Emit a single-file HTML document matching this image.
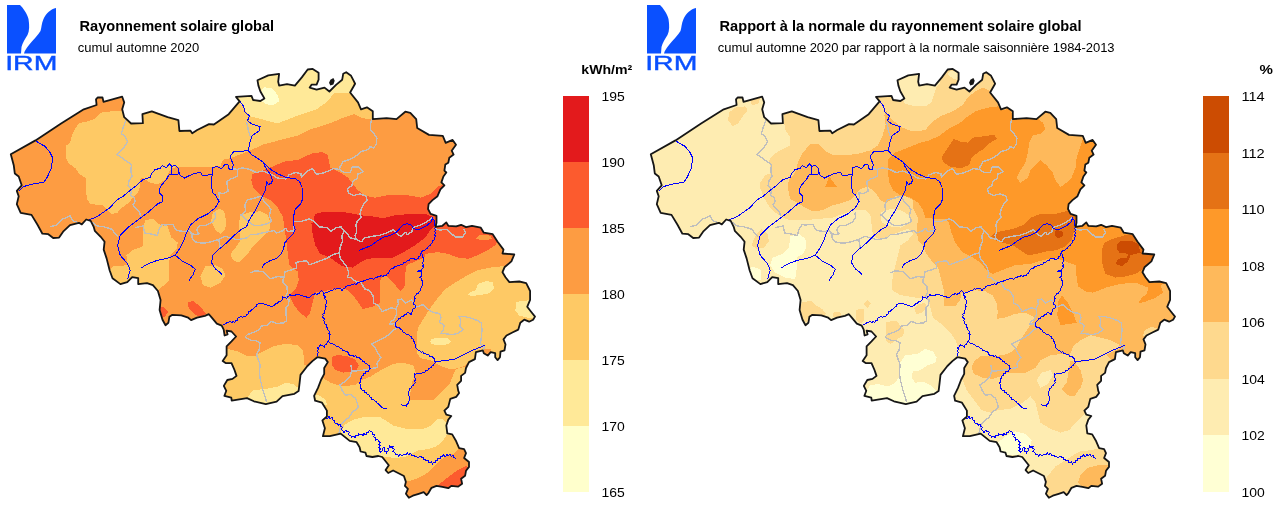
<!DOCTYPE html>
<html lang="fr">
<head>
<meta charset="utf-8">
<title>Rayonnement solaire global</title>
<style>
html,body{margin:0;padding:0;background:#fff;}
body{width:1280px;height:507px;overflow:hidden;}
svg{display:block;}
text{font-family:"Liberation Sans",sans-serif;fill:#000;}
.title{font-weight:bold;font-size:14.6px;}
.sub{font-size:13px;}
.lab{font-size:13px;}
.unit{font-weight:bold;font-size:13px;}
</style>
</head>
<body>
<svg width="1280" height="507" viewBox="0 0 1280 507">
<rect width="1280" height="507" fill="#fff"/>
<defs>
<path id="bel" d="M10.8,154.2 L35.5,140.4 L61.1,123.5 L83.8,109.3 L96.6,105 L96,99.4 L97.6,97.5 L102.5,97.5 L103.5,101.8 L122.2,96.7 L124.2,102.4 L122.2,109.3 L124.2,117.2 L131.1,123.5 L142.9,123.1 L142.4,114.2 L151.8,111.3 L167.6,117.2 L178.4,120.1 L179.4,131 L190.3,130.6 L192.2,133.3 L197.2,130 L209,124.1 L213.9,124.5 L228.7,114.2 L239.6,101.4 L236,96.9 L251.5,95.9 L253.1,100 L260.4,101 L264.4,98.4 L260.4,91.5 L258.4,85.6 L257.5,80.3 L268.3,75.4 L279.1,73.8 L278.2,81.7 L279.1,85.6 L287,84.1 L294.9,85.6 L301.8,77.4 L307.7,69.5 L312.7,68.9 L318.6,72.8 L318.6,79.7 L316.6,84.6 L311.7,84.6 L309.7,87.6 L316.6,89.6 L324.5,87.6 L329.4,91.5 L336.3,84.6 L342.2,79.7 L343.2,73.8 L346.2,72.2 L351.1,75.8 L355.1,83.7 L350.1,92.5 L358,102.4 L361,109.3 L366.9,107.3 L372.8,111.3 L372.8,119.1 L386.6,118.2 L396.5,119.1 L405.3,111.7 L410.3,112.8 L416.2,119.1 L417.2,128 L429,134.9 L442.8,135.9 L445.7,142.8 L452.6,139.9 L456,144.8 L451.7,150.7 L453.6,154.6 L449.3,157.7 L448.3,162.7 L445.3,164.6 L444.4,170.6 L446.3,172.5 L443.4,176.5 L441.4,182.4 L444.4,185.3 L440.4,189.3 L437.5,196.2 L432.5,200.1 L428.6,204.1 L428,209 L430.6,213.9 L436.5,215.9 L436.5,222.8 L435.5,226.8 L442.4,225.8 L446.3,222.4 L448.3,225.8 L456.2,226.4 L461.1,224.8 L466,227.1 L472,225.8 L480.8,227.7 L483.8,232.7 L492.7,234.2 L497.6,241.7 L503.5,249.6 L502.5,253.5 L514.3,254.5 L511.4,261.4 L504.5,267.3 L502.5,272.2 L505.5,277.2 L509.4,282.1 L519.3,281.5 L526.2,283.1 L530.1,291 L530.1,299.9 L527.2,306.8 L531.1,311.7 L535,316.6 L533.1,319.7 L529.1,321.7 L524.2,319.7 L520.3,322.7 L518.3,329.6 L512.4,332.5 L506.5,335.5 L503.5,339.4 L505.5,344.4 L504.5,350.3 L500.5,351.7 L500,357.2 L497.6,360.1 L495.2,357.2 L495.2,353.2 L490.7,352.2 L487.7,355.6 L483.8,353.2 L482.8,350.3 L475.9,352.2 L474.9,359.1 L469,362.1 L466,368 L465.1,372.9 L461.1,375.9 L461.1,380.8 L457.2,384.8 L458.2,390.7 L459.1,393 L456.2,396.9 L450.3,398.9 L448.3,406.8 L444.4,410.7 L446.3,414.6 L451.3,416 L448.3,419.6 L446.3,425.5 L447.3,433.4 L452.2,434.4 L456.2,441.3 L459.1,448.2 L464.1,449.1 L466,453.1 L464.1,458 L469,462 L469,466.9 L466,470.8 L465.1,475.8 L461.1,478.7 L462.1,483.7 L458.2,486.6 L451.3,485.9 L448.3,488.2 L442.4,486.9 L436.5,485.9 L431.5,487.8 L428.6,492.8 L426.6,495.1 L423.7,492.2 L418.7,493.8 L412.8,495.7 L408.9,497.7 L405.9,493.8 L407.9,488.8 L404.9,485.9 L405.9,481.9 L403.9,476 L400,474 L393.1,470.5 L388.2,473 L385.6,470.1 L388.8,465.2 L382.2,457 L378.3,456 L372.4,457 L366.5,456 L365.5,452.7 L360.6,451.5 L359.6,447.2 L356.6,442.2 L349.7,440.9 L340.7,433.6 L329.8,436.2 L322.9,436.2 L324.9,428.3 L322.4,420.4 L326.9,416.5 L326.9,410.6 L322,402.7 L315.1,400.7 L314.1,395.8 L318,387.9 L321,380 L324.2,373.9 L324.2,368 L327.8,362.1 L325.2,358.6 L317.3,357.2 L312.4,361.1 L307.4,366 L300.5,374.9 L299.6,382.8 L298.6,391.1 L294.4,393.8 L282.5,396.2 L276.6,401.7 L265.8,404.1 L253.9,401.3 L247,398.1 L231.7,400.7 L231.3,397.7 L224.4,395.8 L226.3,390.8 L223.8,385.9 L227.3,380 L232.5,378.9 L236.5,375.9 L234.5,370 L231.5,363.1 L225.6,363.1 L222.7,361.1 L226.6,355.2 L226.6,346.3 L231.5,341.4 L236.1,336.5 L231.5,331.5 L226.6,330.6 L227.6,334.5 L224.6,335.5 L223.7,329.6 L221.7,325.6 L216.8,323.7 L211.8,317.7 L208.9,314.2 L204.9,315.8 L197,317.7 L191.1,320.1 L188.2,317.7 L181.3,315.4 L172.4,314.8 L169.4,316.8 L168.4,322.7 L165.5,325.2 L162.5,319.7 L159.6,309.9 L160.6,300 L157.9,291 L152.9,285.1 L147,283.1 L138.2,284.1 L138.2,278.2 L132.2,277.2 L127.3,282.1 L120.4,284.1 L112.5,278.2 L109.6,270.3 L106.6,258.4 L103.7,249.6 L104.6,241.7 L100.7,236.8 L94.8,230.8 L93.7,226.8 L90.7,220.8 L86.2,219.5 L81.8,224.4 L78.9,222.8 L70,225.2 L63.1,231.7 L59.1,237.6 L53.2,238 L48.3,234.2 L42.4,233.7 L37.5,224.8 L31.5,214.9 L20.7,212.9 L16.8,204.1 L18.7,196.2 L16.8,190.9 L21.7,185.3 L18.7,176.5 L14.8,173.5 L13.8,165.6Z"/>
<clipPath id="clipbel"><use href="#bel"/></clipPath>
<g id="lines">
<g fill="none" stroke="#BEBEBE" stroke-width="1.4" stroke-linejoin="round">
<path d="M126,120.5 L123.7,126 L121.3,133.9 L125.2,136.3 L127.6,141.8 L123.7,148.1 L116.6,154.4 L123.7,159.1 L131.5,164.7 L130.8,171 L132.1,176.3 L128.9,181 L128.1,185.8 L132.1,188.9 L130.5,195.2 L134.4,197.6 L135.2,201.5 L132.8,204.7 L135.2,207.9 L139.1,211.8 L140.7,215.7"/>
<path d="M246.7,122.1 L248.3,130 L250.6,137.1"/>
<path d="M230.9,168.6 L237.2,169.4 L242,167.8 L249.8,169.4 L256.2,172.6 L262.5,171 L268.8,173.3 L273.5,175.7 L277.9,178.1 L285.8,178.9 L288.9,175 L295.2,172.6 L300.8,173.4 L301.5,177.3 L306.3,171.8 L312.6,168.6 L316.5,174.2 L322.1,173.4 L328.4,171 L333.1,168.6 L339.4,169.4"/>
<path d="M237.7,170 L237.7,176.3 L231.4,178.7 L226.7,181.8 L227.5,187.4 L228.3,191.3 L223.5,193.7 L218.8,192.9 L219.6,197.6 L217.2,200"/>
<path d="M91.8,222 L97.4,226 L103.7,226.8 L111.5,229.1 L115.5,233.9 L117.9,237"/>
<path d="M135.2,227.6 L143.1,226 L144.7,233.1 L151,233.9 L157.3,235.5 L158.9,229.9 L162,224.4 L166,225.2 L168.3,224.4 L173.1,224.4 L174.6,228.4 L177.8,230.7 L184.1,231.5 L188.8,230.7 L192,233.1 L192,237.8 L195.1,241.8 L203,243.3 L210.9,241.8 L218.8,239.4 L225.1,236.2 L229.8,237.8 L236.2,239.4 L239.3,239.4 L247.2,237.8 L250.3,234.7 L255.1,234.7 L261.4,233.1 L269.3,231.5 L274,230.7 L276.3,233.1 L282.6,230.8 L285.8,228.4 L287.4,231.5 L293.7,230.8 L293.7,221.3 L301.5,221.3 L309.4,218.9 L314.2,221.3 L318.9,226.8 L326.8,227.6 L330.7,231.5 L336.2,227.6 L341,226.8 L344.1,230.8 L347.3,233.9 L350.4,237.9 L356,239.4 L361.5,241.8 L364.6,237.9 L372.5,236.3 L378.8,235.5 L386.7,233.1 L393,230 L397,233.9 L400.9,236.3 L405.6,232.3 L407.2,234.7 L412,231.5 L412.7,227.6 L419.8,225.2 L426.2,222.1 L430.9,218.9 L432.5,216.6"/>
<path d="M214.9,212.6 L215.6,217.3 L212.5,222.1 L206.2,225.2 L199.9,225.2 L196.7,229.9 L199.1,233.9 L195.1,234.7 L190.4,233.1"/>
<path d="M261.4,196 L253.5,198.4 L247.2,200 L244.8,204.7 L245.6,211 L240.9,215 L244,217.3 L248.8,222.1 L253.5,225.2 L261.4,225.2 L267.7,223.6 L271.6,221.3 L269.3,215.7 L270.9,209.4 L267.7,204.7 L263.8,201.5 L261.4,196"/>
<path d="M218.8,239.4 L219.6,244.1 L220.4,248.9"/>
<path d="M371.5,119.5 L370.5,125 L370.2,130 L374.1,133.9 L376.9,137.9 L376.5,144.2 L373.3,148.1 L370.2,146.6 L367.8,149.7 L361.5,151.3 L356,156 L350.4,159.2 L343.3,161.5 L340.2,166.3 L339.4,169.4 L344.1,172.6 L350.4,172.6 L352,167.1 L358.3,167.1 L363.1,171.8 L357.5,174.2 L357.5,178.1 L352.8,181.3 L352,185.2 L347.3,189.1 L348.9,193.1 L353.6,195.5 L359.9,193.9 L366.2,196.2 L367,200.2 L363.8,204.1 L361.5,207.9 L359.9,214.2 L361.5,217.4 L357.5,220.5 L356,225.2 L356.8,231.5 L355.2,235.5 L356,239.4"/>
<path d="M344.1,230.8 L341.8,236.3 L342.6,241 L340.2,247.3 L339.4,252.8 L340.2,258.4 L344.1,263.1 L347.3,267.8 L348.9,274.1 L347.3,277.3 L351.4,277.9 L356.2,281.8 L360.9,282.6 L364.8,288.9 L369.6,290.5 L373.5,296.8 L373.5,303.1 L378.2,305.5 L382.2,311.8 L390.5,307.9 L396,308.6 L398.4,303.9 L397.6,300 L401.5,299.2 L405.5,303.1 L411.8,300 L412.6,302.3 L416.5,307.1 L422.8,304.7 L428.4,309.4 L433.1,312.6 L439.4,313.4 L441,317.3 L439.4,322.1 L444.1,325.2 L443.3,329.9 L441,333.1 L447.3,333.9 L452.8,334.7 L458.3,333.1 L463.1,329.9 L459.9,326 L460.7,320.5 L459.1,316.5 L464.6,316.5 L470.9,318.1 L477.3,320.5 L481.2,322.8 L482,329.9 L481.2,337.8 L480.4,344.1 L484.4,345.7 L483.6,350"/>
<path d="M339.4,252.8 L333.1,254.4 L326.8,258.4 L320.5,260.7 L314.2,263.1 L309.4,264.7 L306.3,260.7 L301.5,261.5 L296,262.3 L296.8,267.8 L290.5,270.2 L285,271.8 L284.2,277.3 L277.9,276.5 L270,278.9 L263.1,271.6 L255.2,270.8 L250.5,273.2"/>
<path d="M434,228.4 L440.3,230 L446.7,229.2 L451.4,233.9 L456.1,237.1 L462.4,237.1 L465.6,232.3 L464,229.2"/>
<path d="M283.6,276.3 L282.8,282.6 L286.8,285.8 L287.5,292.1 L285.2,296.8 L289.1,300 L288.3,304.7 L286,307.9 L286,314.2 L286.8,320.5 L283.6,322.8 L277.3,323.6 L271,321.3 L267.8,325.2 L261.5,326 L259.9,329.1 L253.6,332.3 L247.3,334.7 L245,337 L250.5,340.2 L255.2,340.2 L259.9,342.6 L259.1,350 L256.3,354.2 L258.6,360.5 L260.2,365.2 L259.4,371.5 L260.2,379.4 L261.8,385.7 L263.4,392.1 L265.7,398.4 L266.5,402.3"/>
<path d="M396,308.6 L396.8,313.4 L394.4,318.9 L390.5,322.1 L389.7,324.4 L393.7,323.6 L396.8,327.6 L392.1,331.5 L385.8,337 L381,339.4 L376.3,341.8 L371.6,344.1 L375.4,347.9 L377.7,352.6 L380.9,357.4 L376.9,363.7 L377.7,367.6 L371.4,368.4 L365.1,370 L357.2,370.8 L351.7,370.8 L350.1,376.3 L344.6,381.8 L339.9,385 L342.2,390.5 L345.4,395.2 L350.9,394.4 L355.6,398.4 L357.2,403.1 L358.4,407.1 L352.1,412.6 L348.9,417.4 L344.2,421.3 L341,425.2 L339.4,431.5 L338.6,433.1"/>
<path d="M351.7,370.8 L350.9,365.2"/>
<path d="M50.3,226.8 L57.2,224.8 L63.1,218.9 L70,215.9 L73,220.8 L78.9,222.8"/>
</g>
<g fill="none" stroke="#0000FF" stroke-width="1" stroke-linejoin="round">
<path d="M36.3,141.4 L45.1,146.4 L50.1,152.7 L52.6,157.7 L51.4,167.7 L47.6,176.5 L43.9,182.3 L32.6,184 L23.8,186.5 L18.8,191.5"/>
<path d="M239.6,100.8 L243.5,106.3 L245.1,112.6 L249.8,115.8 L247.5,120.5 L251.4,123.7 L260.1,126.8 L259.3,130.8 L252.2,135.5 L249.8,142.6 L248.3,150.5 L242,151.3 L234.1,151.3 L230.1,156 L231.7,160.7 L233.3,164.7 L232.5,169.4 L229.3,169.4 L227.8,164.7 L224.6,164.7 L221.5,168.6 L216.7,166.2 L212.8,167.8 L212,174.1 L208.8,174.9 L202.5,175.7 L200.9,172.6 L194.6,173.3 L189.1,175.7 L184.4,178.1 L179.7,174.9 L178.1,167.8 L175.7,165.5 L171.8,166.2 L169.4,163.9 L166.2,167.8 L162.3,165.5 L159.9,168.6 L155.2,169.4 L151.3,174.1 L150.5,177.3 L145.7,178.9 L142.6,180 L136.6,185.3 L130.3,190.3 L122.8,196.5 L116.5,200.3 L110.1,207.6 L97.6,216.3 L88.8,220.1"/>
<path d="M171.8,166.2 L171.8,174.1 L178.1,174.1 L178.1,167.8"/>
<path d="M172.5,174.1 L169.4,174.1 L166.7,179 L160.4,186.5 L159.1,192.8 L162.9,196.5 L162.9,201.6 L157.7,203.8 L147.7,212.6 L137.7,220.1 L127.7,227.6 L120.2,235.1 L117.6,245.2 L120.2,255.2 L127.7,264 L130.2,270.2 L127.7,279"/>
<path d="M212.8,167.8 L211.8,177.7 L211,185.3 L213,192.8 L215.4,195 L219.1,201.3 L215.4,207.6 L207.9,213.8 L197.8,218.8 L190.3,225.1 L186.6,232.6 L184.1,240.2 L180.3,247.7 L175.3,255.2 L167.8,258.2 L157.7,260.2 L147.7,264 L141.5,267.7"/>
<path d="M175.3,255.2 L182.8,261.5 L190.3,265.2 L195.3,269 L192.8,275.2 L189.1,280.3"/>
<path d="M248.3,150.5 L251.4,154.4 L257.7,158.4 L263.2,162.3 L264.8,166.2 L267.2,170.2 L270.3,174.1 L272.5,180 L271.5,183 L268.5,184.5 L266.5,182 L265.5,190 L260.5,200.1 L255.5,210.1 L249.2,220.1 L246.7,226.4 L240.5,230.1 L232.9,236.4 L225.4,243.9 L217.9,250.2 L212.9,255.2 L211.6,262.7 L215.4,269 L220.4,272.7 L222.4,275.2"/>
<path d="M263.2,162.3 L267.2,166.2 L271.9,170.2 L278.2,174.1 L286.1,177.3 L295.6,178.9 L299.5,181.5 L302,187 L302.3,200 L300,204.7 L295.2,209.5 L293.7,215.8 L293.3,223.7 L295.2,229.2 L293.7,233.1 L288.9,237.9 L285,242.6 L283.4,248.9 L281,254.4 L276.3,258.4 L270,260.7 L264.3,264 L261.8,268.2"/>
<path d="M432.5,217.4 L432.74,219.1 L434.23,220.34 L433.93,222.23 L434.95,223.65 L434.7,225.31 L435.56,226.8 L434.78,228.5 L435.7,229.99 L434.94,231.53 L435.71,233.2 L434.69,234.7 L435.41,236.37 L434.7,237.89 L434.31,239.77 L432.59,240.89 L432.18,242.81 L430.83,244.16 L429.98,245.63 L428.26,246.26 L427.8,248.15 L426.11,248.81 L424.77,250.23 L422.8,250.73 L421.5,252.26 L420.33,253.94 L419.94,256.06 L418.48,256.75 L418.09,258.43 L416.62,259.02 L415.06,259.38 L413.63,258.19 L411.98,258.55 L410.09,258.87 L409.05,260.76 L407.03,261.05 L405.65,262.38 L403.75,262.56 L402.65,264.3 L400.72,264.4 L399.38,265.66 L397.59,265.54 L396.33,267.01 L394.55,266.83 L393.24,268.37 L391.24,268.8 L390,270.35 L389.21,271.56 L388.65,273.25 L386.93,274.01 L386.22,275.6 L384.47,275.14 L383,276.43 L381.3,275.41 L379.83,276.59 L378.19,276.2 L376.82,277.63 L374.81,278.05 L373.58,279.61 L372.46,278.45 L371,278.05 L369.54,278.09 L368.56,279.58 L366.84,279.38 L365.64,280.4 L363.93,280.62 L362.58,281.82 L360.75,281.68 L359.34,282.72 L357.58,282.82 L356.35,284.33 L354.36,283.85 L353.04,285.09 L351.37,284.79 L349.89,285.73 L348.21,285.1 L346.72,285.98 L345.28,286.73 L344.74,288.54 L342.91,289.06 L342.06,290.56 L340.73,288.86 L338.73,288.19 L337.18,288.04 L335.74,289.05 L334.08,288.8 L332.71,290.07 L330.76,290.12 L329.57,291.67 L327.73,291.97 L326.61,292.98 L325.02,292.88 L323.83,293.78 L322.9,291.92 L321.39,290.58 L320.15,291.28 L319.76,293.03 L318.2,293.6 L316.81,294.45 L315.07,293.55 L313.61,294.49 L311.85,295.24 L310.58,296.8 L308.73,297.5 L307.11,297.66 L305.78,296.28 L303.98,296.78 L302.55,295.82 L300.85,295.72 L299.55,294.39 L297.77,294.5 L296.04,294.38 L294.76,295.73 L293.04,295.82 L291.26,295.69 L289.98,294.23 L289.25,296.03 L287.57,296.86 L286.95,298.51 L285.63,297.47 L284.02,297.61 L282.85,296.66 L282.84,298.51 L281.87,299.97 L280.61,301.31 L278.69,301.8 L277.38,303.22 L275.49,303.81 L274.34,305.49 L272.53,306.19 L270.91,306.56 L269.49,305.25 L267.78,305.63 L266.42,304.33 L264.48,304.26 L263.15,303.01 L261.59,303.7 L259.89,303.21 L258.42,303.99 L256.83,304.7 L256.37,306.63 L254.46,307.07 L253.66,308.66 L251.81,309.34 L250.71,311.09 L248.85,311.72 L248.34,313.71 L246.32,314.63 L245.81,316.58 L244.06,316.18 L242.59,317.24 L240.93,316.75 L239.42,317.44 L237.84,318.12 L237.41,320.05 L235.68,320.71 L234.81,322.2 L233.12,321.5 L231.55,322.64 L229.97,321.5 L228.4,322.29 L226.85,322.57 L225.83,323.98 L224.05,324.02 L222.99,325.36"/>
<path d="M359.1,250.5 L364.6,248.1 L370.9,245.7 L377.3,241 L383.6,237.1 L389.9,235.5 L396.2,232.3 L399.3,229.2 L402.5,225.2 L407.2,223.7 L411.2,225.2 L413.5,228.4 L416.7,230 L421.4,228.4 L426.2,226 L430.9,222.1 L432.5,217.4"/>
<path d="M323.8,293.7 L323.77,295.42 L325.21,296.68 L324.73,298.54 L326.09,299.83 L326.02,301.56 L326.67,303.14 L325.32,304.6 L326.08,306.28 L325.05,307.77 L325.53,309.41 L324.43,310.83 L324.84,312.79 L322.95,313.88 L323.09,315.73 L322.78,317.46 L324.33,318.77 L323.76,320.61 L324.72,322.07 L324.89,323.93 L326.63,325.03 L326.49,327.09 L327.95,328.32 L328.04,330.1 L329.52,331.34 L328.87,333.36 L330.29,334.63 L329.3,336.18 L329.88,337.89 L329.21,339.38 L328.59,341.1 L327.13,342.29 L326.58,344.2 L324.8,345.28 L324.26,347.21 L322.76,345.56 L320.81,344.82 L319.53,345.44 L319.07,347.06 L317.68,347.79 L318.44,349.48 L317.44,351.06 L318.19,352.64 L317.33,354.22 L317.89,355.8"/>
<path d="M328.8,341.6 L330.14,343.04 L332.28,343.23 L333.49,344.87 L335.4,345.07 L336.52,346.75 L338.57,346.62 L339.85,348 L341.74,348.51 L342.73,350.43 L344.7,350.85 L346.12,351.73 L347.83,351.68 L348.25,353.54 L349.47,354.92 L350.8,355.77 L352.49,355.09 L353.94,356.29 L355.63,355.6 L356.9,357.31 L359.1,357.41 L360.34,358.99 L361.85,359.62 L362.61,361.23 L364.38,361.52 L365.21,363.04 L366.77,363.61 L367.51,364.95 L369.11,365.42 L369.7,366.9 L370.07,368.54 L368.95,369.97 L368.02,371.43 L366.01,371.54 L365.22,373.39 L363.42,373.78 L363.09,375.44 L361.36,376.22 L361.38,378 L360.06,379.56 L360.69,381.73 L359.48,383.36 L360.51,385.12 L360.27,387.18 L361.29,388.87 L362.22,390.37 L364.22,390.47 L364.96,392.35 L366.78,392.69 L367.19,394.55 L369.27,395.08 L369.73,396.86 L371.24,397.48 L371.78,399.27 L373.71,399.35 L374.47,400.86 L376.07,401.35 L376.74,402.95 L378.48,403.28 L379.18,404.84 L380.65,405.44 L381.2,407.01 L382.59,407.71 L383.91,408.83 L385.77,407.95 L387.18,409"/>
<path d="M421.4,252.1 L421.59,253.83 L423.07,255.07 L422.72,257.01 L423.89,258.37 L423.01,259.88 L423.12,261.66 L422.1,263.06 L423.27,264.49 L422.78,266.4 L423.94,267.75 L422.17,268.5 L421.45,270.33 L419.74,270.92 L418.65,271.72 L417.28,271.5 L418.76,270.62 L420.52,270.88 L421.82,272.54 L422.02,274.73 L421.27,276.27 L419.62,277.02 L421.06,278.14 L421.32,280.06 L422.86,280.95 L422.28,282.56 L422.93,284.29 L421.97,285.78 L421.85,287.46 L420.44,288.73 L420.67,290.56 L419.08,291.45 L418.4,293.15 L416.68,293.8 L415.78,295.28 L414.73,296.65 L415.01,298.5 L414.05,299.95 L414.08,302.01 L413.3,303.88 L415.01,305.17 L415.6,307.17 L414.4,308.59 L412.51,309.28 L412.49,311.39 L411.14,313.02 L411.08,315.02 L410.18,313.42 L408.47,312.73 L406.97,312.87 L406.27,314.63 L404.64,314.9 L403.34,316.32 L401.28,316.51 L400.24,318.36 L398.35,318.82 L397.63,320.67 L395.94,321.81 L395.31,323.68 L395.06,325.34 L396.13,326.77 L397.48,327.82 L399.44,327.82 L400.74,329.21 L402.32,330.43 L403.01,332.36 L404.87,332.72 L406.06,334.27 L408.07,334.21 L409.36,335.58 L411.06,336.46 L411.83,338.34 L413.51,339.29 L413.67,341.06 L414.82,342.41 L414.89,344.14 L415.98,345.55 L415.72,347.39 L416.62,348.86 L418.14,350.28 L419.86,350.61 L421,352.08 L422.97,351.87 L424,353.56 L425.78,353.73 L427.07,354.96 L429.01,354.88 L430.08,356.54 L431.93,356.64 L433.23,357.84 L434.67,359.1 L434.72,361.16 L435.9,362.65 L434.16,363.56 L433.58,365.48 L431.8,366.2 L430.86,367.76 L429.12,368.46 L428.03,370.11 L425.9,370.18 L425.07,372.23 L423.13,372.59 L421.63,373.18 L419.99,372.99 L418.57,373.85 L416.92,372.94 L415.57,374.2 L413.99,373.8 L414.97,375.6 L414.64,377.69 L415.74,379.36 L414.72,380.88 L415.11,382.79 L413.83,384.14 L413.06,385.61 L411.38,386.28 L410.89,388.14 L409.22,388.82 L409.63,390.57 L408.32,391.96 L408.65,393.63 L408.54,395.37 L409.9,396.69 L409.99,398.44 L409.91,400.08 L408.54,401.37 L408.65,403.15 L407.05,404.46 L406.24,406.31 L404.66,405.3 L402.86,405.54 L401.44,404.58"/>
<path d="M435.5,361.4 L445.5,360.7 L455.5,358.9 L465.6,353.9 L473.1,350.1 L480.6,347.1 L484.4,345.1"/>
<path d="M326,418.9 L328,418.31 L329,416.32 L329.8,418.51 L332.64,417.61 L332.95,419.89 L335,420.46 L334.93,423.21 L337.34,423.46 L337.97,425.19 L340.28,424.25 L340.86,426.24 L342.69,427.21 L341.41,429.42 L342.82,430.73 L343.97,432.34 L345.86,430.39 L347.26,431.74 L349.34,432.06 L348.57,434.86 L350.67,435.37 L351.59,437.23 L354.15,436.09 L355.1,438.1 L355.7,435.78 L358.3,435.72 L358.91,433.72 L360.19,435.05 L362.05,434.26 L362.95,435.89 L363.47,433.79 L366.17,434.34 L366,432.1 L367.98,433.1 L369.19,430.49 L371.06,431.84 L372.53,432.09 L372.3,434.38 L374.34,434.47 L373.92,436.74 L375.82,438.18 L375.33,440.31 L377.55,439.62 L378.85,441.22 L380.12,442.41 L378.67,444.26 L380.07,445.64 L378.88,447.41 L380.73,448.83 L378.98,450.64 L380.6,452.08 L382.15,450.96 L382.02,448.55 L383.9,447.5 L385.02,448.56 L384.29,450.91 L386.6,451.72 L386.54,453.73 L386.35,451.6 L389,450.82 L387.76,448.51 L390.2,447.64 L389.63,445.6 L391.24,447.14 L393.15,446.3 L392.52,448.3 L394.62,449.47 L392.97,451.52 L394.99,452.71 L395.53,454.38 L397.71,454.38 L398.38,456.27 L400.14,454.45 L402.44,455.52 L404,454.06 L406.31,454.81 L407.17,452.55 L408.47,454.38 L410.91,453.46 L411.82,455.56 L413.83,454.97 L414.86,457.06 L416.77,456.59 L418.3,457.9 L419.9,455.82 L421.5,457.04 L423.26,457.07 L423.45,459.23 L425.57,459.07 L425.93,461.02 L428.26,460.55 L428.98,463.04 L431.54,461.9 L432.38,464.14 L433.16,462.29 L435.26,462.38 L435.56,460.35 L437.35,460.07 L437.91,458.32 L440.42,458.96 L440.29,456.35 L442.15,456.19 L443.44,454.73 L445.32,456.92 L446.62,454.57 L448.35,455.56 L449.87,454.31 L451.43,456.25 L453,454.88 L453.12,457.61 L455.69,458.18"/>
</g>
</g>

</defs>
<!-- left panel -->
<g id="panelL">
<g transform="translate(0,0)" shape-rendering="crispEdges">
<g clip-path="url(#clipbel)">
<rect x="0" y="60" width="560" height="447" fill="#FD9C42"/>
<path d="M121.3,110.9 L125.5,110.5 L126,60 L376,60 L376,117 L371.8,119.1 L362,118.2 L354.1,114.2 L342.2,118.2 L330.4,123.1 L308.7,130 L296.9,135.9 L277.2,140.8 L262.4,144.8 L247.6,151.7 L236.6,155.8 L228.7,158.7 L222.8,159.7 L220.8,165.6 L216.9,166.6 L177.4,166.6 L171.5,168.6 L168.6,172.5 L165.6,179.4 L157.7,184.4 L149.8,182.4 L142,177.5 L140,179.4 L140,187.3 L138,192.2 L128.2,203.1 L120.3,209 L117.3,212.9 L111.4,213.9 L107.5,210 L102.5,205.1 L90.7,204.1 L86.8,199.1 L86.2,189.3 L85.8,178.4 L78.9,173.5 L75.9,168.6 L69,163.7 L66,157.7 L66,145.9 L70,142.8 L72,134.9 L74.9,129 L78.9,123.1 L88.7,121.1 L94.6,119.1 L100.5,112.8 L106.5,111.7Z" fill="#FEC965"/>
<path d="M145.2,220.1 L152.7,218.8 L160.3,225.1 L167.8,226.4 L171.5,237.6 L177.8,242.7 L176.5,248.9 L170.3,255.2 L169,262.7 L169.5,280.3 L160.3,288.3 L150,296 L115,290 L108.9,277.7 L108.9,271.5 L112.6,266.5 L127.7,265.2 L126.4,255.2 L132.7,250.2 L142.7,246.4 L142.7,230.1Z" fill="#FEC965"/>
<path d="M212.9,212.6 L219.1,208.8 L224.2,211.3 L225.9,220.1 L225.4,228.9 L220.4,233.9 L215.4,230.1 L211.1,221.4Z" fill="#FEC965"/>
<path d="M240.5,215.1 L250.5,212.1 L260.5,211.3 L268,215.1 L270.5,222.6 L269.3,230.1 L260.5,238.9 L253,246.4 L246.7,255.2 L239.2,262.7 L232.9,260.2 L230.4,253.9 L235.4,247.7 L240.5,240.2 L239.2,230.1 L239.2,221.4Z" fill="#FEC965"/>
<path d="M205.4,266.5 L215.4,265.2 L222.9,269 L225.4,275.2 L220.4,282.8 L210.4,287.8 L202.9,285.3 L200.4,276.5Z" fill="#FEC965"/>
<path d="M222,348 L227.7,348.9 L237.8,351.4 L247.8,356.4 L255.3,355.7 L262.8,351.4 L272.9,346.4 L285.4,343.9 L297.9,345.1 L302.9,350.2 L304.2,360.2 L304.2,365.2 L310,366 L310,420 L215,420Z" fill="#FEC965"/>
<path d="M505,266 L500.7,266.4 L490.6,267.6 L478.1,270.1 L465.6,276.4 L453,283.9 L445.5,288.9 L438,297.7 L430.5,307.7 L424.2,317.7 L417.9,327.8 L416.7,337.8 L416.8,353.2 L420.7,358.2 L430.6,360.1 L435.5,363.1 L440.4,366 L448.3,368.6 L456.2,368.6 L464.1,366 L468,363.1 L472,361 L480,368 L545,368 L545,265Z" fill="#FEC965"/>
<path d="M316,372 L320.5,376.5 L330.5,382.7 L343,386.5 L355.6,384.7 L361.8,380.2 L370.6,376.5 L380.6,370.2 L393.2,363.9 L403.2,362.7 L413.2,365.2 L415.7,372.7 L412,382.7 L410.7,390.3 L409.4,400.3 L434.5,399.5 L440.8,392.8 L444.4,388.7 L450.3,382.8 L453.2,374.9 L456.2,369 L464,367 L472,366 L485,400 L485,505 L300,505 L300,400Z" fill="#FEC965"/>
<path d="M236,60 L238,99 L239.1,101.8 L249.6,116.2 L261.4,119.1 L277.2,123.5 L298.9,115.2 L316.6,109.3 L327.5,101.4 L334.4,92.5 L349.2,92.5 L353,92.5 L353,60Z" fill="#FFE998"/>
<path d="M249,395.3 L252.8,390.3 L265.3,389 L277.9,386.5 L285.4,382.7 L292.9,384 L297.9,387.7 L300.4,392.8 L302,400 L270,414 L245,405Z" fill="#FFE998"/>
<path d="M344.8,424.5 L353.7,419.6 L365.5,416.6 L379.3,416.6 L387.2,421.5 L393.1,425.5 L408.9,429.4 L422.7,429.4 L430.6,425.5 L436.5,419.6 L442.4,418.6 L445.3,421.5 L452,425 L452,435 L446.3,435.3 L442.4,441.3 L436.5,446.2 L428.6,449.1 L418.7,450.1 L412.8,453.1 L404.9,457 L395.1,458 L387.2,457 L379.3,456 L366,458 L358,449 L345,441 L340,434Z" fill="#FFE998"/>
<path d="M314,394 L320,396 L326,400 L327,405 L318,404Z" fill="#FFE998"/>
<path d="M469,293 L475.9,290 L477.9,284.1 L485.8,281.1 L492.7,282.1 L494,288 L489.7,293 L481.8,294.9 L472,295.9 L468,294.9Z" fill="#FFE998"/>
<path d="M516.3,301.8 L525.2,300.8 L530,300 L540,312 L536,318 L527.2,317.6 L519.3,315.6 L515.3,310.7Z" fill="#FFE998"/>
<path d="M430,341.4 L432,338.7 L440.4,337.7 L448,338.5 L451,341.4 L448,344.3 L440.4,345.1 L432,344.3Z" fill="#FFE998"/>
<path d="M257,90 L260.8,91.5 L264.4,87.2 L272.2,88.6 L278.2,95.5 L279.1,101.4 L273.2,105 L266.3,104.4 L261.4,101 L260,97Z" fill="#FFFFCC"/>
<path d="M405.9,481.9 L412.8,480 L420.7,477 L428.6,472.1 L434.5,466.1 L440.4,460.2 L446.3,456.3 L454.2,453.3 L458.2,449.4 L475,448 L475,505 L400,505Z" fill="#FD9C42"/>
<path d="M484.5,349 L490.5,349 L491,354 L487,356.5 L484,353Z" fill="#FD9C42"/>
<path d="M251.3,180.1 L252.5,173.9 L270.1,167.6 L285.1,161.3 L297.6,160.1 L312.7,153.1 L322.7,152.1 L327.7,155.1 L330.2,167.6 L340.3,172.6 L347.8,177.6 L352.8,183.9 L357.8,190.2 L365.3,195.7 L375.3,197.7 L390.4,194.7 L405.4,194.7 L420.5,197.7 L430.5,193.9 L438,186.4 L445,184 L443,222 L447,219 L482,224 L495,232 L498,240 L495.6,245.1 L488.1,250.1 L478.1,255.1 L468.1,258.8 L458,257.6 L448,253.8 L438,252.1 L425.5,253.8 L424.2,257.6 L415.4,261.4 L406.7,265.1 L405.4,272.6 L405.4,285.2 L400.4,291.4 L395.4,285.2 L390.4,280.2 L386.6,276.4 L382.9,275.1 L380.4,280.2 L380.4,290.2 L380.4,302.7 L372.8,306.5 L362.8,309 L357.8,301.5 L352.8,295.2 L347.8,290.2 L340.3,287.7 L322.7,291.4 L315.2,292.7 L312.7,302.7 L310.2,312.7 L306.4,317.7 L300.2,312.7 L293.9,305.2 L290.1,297.7 L291.4,292.7 L296.4,287.7 L298.9,280.2 L297.6,271.5 L289.3,265.2 L288.1,255.2 L286.8,245.2 L285.6,235.1 L284.3,227.6 L283.1,217.6 L278,207.6 L270.5,200.1 L260.5,195 L253,187.5Z" fill="#FC5B2E"/>
<path d="M476.5,238.5 L479,235.5 L485,234.5 L490.5,236 L492,238.5 L487,240 L480,240Z" fill="#FD9C42"/>
<path d="M188.2,302 L193.1,301 L198,304.9 L203,309.9 L205.9,313.8 L203,316.2 L197,315.8 L191.1,310.8 L187.6,305.9Z" fill="#FC5B2E"/>
<path d="M158,306 L164,307 L168,312 L165,317 L160,318Z" fill="#FC5B2E"/>
<path d="M332.1,357.2 L337,354.8 L346.9,356.2 L354.8,359.1 L358.7,365.1 L356.7,370 L350.8,372 L342.9,372.6 L335,370 L331.5,364.1Z" fill="#FC5B2E"/>
<path d="M438.4,484.9 L448.3,477 L456.2,471.1 L466,466.1 L475,470 L470,495 L440,495Z" fill="#FC5B2E"/>
<path d="M312.7,222.7 L315.2,214 L325.2,211.5 L340.3,211.5 L350.3,213.2 L360.3,215.2 L372.8,216.5 L382.9,218.2 L395.4,215.2 L410.4,214 L425.5,214 L431.7,216.5 L435,222 L434.2,226 L430.5,230 L425.5,237.5 L415.4,245.1 L402.9,252.6 L392.9,257.6 L380.4,257.6 L367.8,258.8 L360.3,262.6 L352.8,267.6 L342.8,266.4 L335.2,261.4 L330.2,257.6 L320.2,253.8 L315.2,245.1 L312.7,235 L311.4,222.5Z" fill="#E31A1C"/>
<use href="#lines"/>
</g>
<use href="#bel" fill="none" stroke="#161616" stroke-width="1.8" stroke-linejoin="round" shape-rendering="geometricPrecision"/>
<path d="M330.4,79.7 L333.4,78.1 L334.7,80.7 L333.4,84.6 L330.4,85.6 L329,82.7Z" fill="#161616" shape-rendering="geometricPrecision"/>
</g>

<g fill="#0A50FF">
<path d="M7,5 L20,5 C23,8 27,13 28.5,19 C29.5,25 29.5,31 27.5,35 C25,39 22.5,43 21.5,47 L21,53.6 L7,53.6 Z"/>
<path d="M56,8 C51,9 46,13.5 43.5,19 C41.5,23 41.5,28 40.5,31 C38,35 33,40 29,45 C26.5,48 24.5,51 24,53.6 L56,53.6 Z"/>
<text x="5.2" y="70.4" style="fill:#0A50FF;stroke:#0A50FF;stroke-width:0.4px" font-family="Liberation Sans, sans-serif" font-size="20.2" textLength="52.2" lengthAdjust="spacingAndGlyphs">IRM</text>
</g>
<text x="79.5" y="30.6" class="title">Rayonnement solaire global</text>
<text x="77.8" y="51.6" class="sub">cumul automne 2020</text>
<g shape-rendering="crispEdges">
<rect x="563" y="426" width="26" height="66" fill="#FFFFCC"/>
<rect x="563" y="360" width="26" height="66" fill="#FFE998"/>
<rect x="563" y="294" width="26" height="66" fill="#FEC965"/>
<rect x="563" y="228" width="26" height="66" fill="#FD9C42"/>
<rect x="563" y="162" width="26" height="66" fill="#FC5B2E"/>
<rect x="563" y="96" width="26" height="66" fill="#E31A1C"/>
</g>
<text x="601.4" y="496.6" class="lab" textLength="23.3" lengthAdjust="spacingAndGlyphs">165</text>
<text x="601.4" y="430.6" class="lab" textLength="23.3" lengthAdjust="spacingAndGlyphs">170</text>
<text x="601.4" y="364.6" class="lab" textLength="23.3" lengthAdjust="spacingAndGlyphs">175</text>
<text x="601.4" y="298.6" class="lab" textLength="23.3" lengthAdjust="spacingAndGlyphs">180</text>
<text x="601.4" y="232.6" class="lab" textLength="23.3" lengthAdjust="spacingAndGlyphs">185</text>
<text x="601.4" y="166.6" class="lab" textLength="23.3" lengthAdjust="spacingAndGlyphs">190</text>
<text x="601.4" y="100.6" class="lab" textLength="23.3" lengthAdjust="spacingAndGlyphs">195</text>
<text x="581.3" y="74" class="unit" textLength="51" lengthAdjust="spacingAndGlyphs">kWh/m²</text>

</g>
<!-- right panel -->
<g id="panelR" >
<g transform="translate(640,0)" shape-rendering="crispEdges">
<g clip-path="url(#clipbel)">
<rect x="0" y="60" width="560" height="447" fill="#FEECB1"/>
<path d="M144,60 L144.1,122.6 L145.4,130.1 L150.4,137.6 L150.4,145.2 L140.4,150.2 L132.8,155.2 L129.1,160.2 L130.3,166.5 L131.6,172.7 L125.3,175.2 L120.3,182.8 L120.1,187.6 L123.9,197.7 L130.1,207.7 L135.2,212.6 L142.7,217.6 L150.2,220.1 L165.3,220.1 L180.3,218.8 L192.8,217.6 L202.9,213.8 L215.4,210.1 L225.4,210.1 L230.4,215.1 L231.7,225.1 L232.9,235.1 L240.5,240.2 L250.5,235.1 L260.5,231.4 L268,228.9 L273,233.9 L268,240.2 L260.5,245.2 L258,255.2 L255.5,265.2 L253,275.2 L251.7,285.3 L251.7,290 L260.3,295 L275.4,297.5 L287.9,297.5 L290.4,307.5 L292.9,317.6 L302.9,325.1 L310.5,332.6 L315.5,340.1 L318,347.6 L320.5,352.7 L318,360 L316,375 L322.7,380 L326.5,390 L334,400.1 L341.5,410.1 L350.3,412.6 L357.8,410.1 L370.3,408.8 L382.9,402.6 L390.4,396.3 L395.4,402.6 L397.9,412.6 L400.4,422.6 L410.4,428.9 L420.5,432.6 L429.2,430.1 L435.5,422.6 L443,415.1 L448,412.6 L456,412 L470,410 L545,330 L545,230 L470,60Z" fill="#FED98E"/>
<path d="M89,112.6 L95.2,107.6 L105.3,106.3 L107.8,110.1 L102.8,116.3 L97.7,123.9 L92.7,126.4 L88.2,120.1Z" fill="#FED98E"/>
<path d="M110,100 L115,97 L121,97 L118,104 L112,105Z" fill="#FED98E"/>
<path d="M111.4,245.2 L116.4,233.9 L121.4,228.9 L127.7,233.9 L128.9,241.4 L123.9,247.7 L116.4,248.9Z" fill="#FED98E"/>
<path d="M405.4,479 L410.4,472.7 L415.4,466.5 L425.5,460.2 L433,455.2 L440.5,451.4 L450.5,450.2 L458,448.9 L463,450.2 L480,450 L480,505 L400,505Z" fill="#FED98E"/>
<path d="M162.1,302.3 L171.5,300.8 L176.3,305.5 L182.6,309.4 L185.7,313.4 L184.2,318 L165,322 L158,312Z" fill="#FED98E"/>
<path d="M215.7,311 L218.9,308.6 L223.6,309.4 L223.6,320.5 L220.4,323.6 L215.7,318.9Z" fill="#FED98E"/>
<path d="M223.6,303.5 L227.5,299.5 L230.7,303.5 L227.5,308Z" fill="#FED98E"/>
<path d="M192.8,313 L197,311.5 L201.5,313 L201,317 L193,317Z" fill="#FED98E"/>
<path d="M246.5,322.1 L256.7,320.5 L259.9,325.2 L264.6,329.9 L263,336.2 L256.7,339.4 L250.4,344.1 L246.5,341 L245.7,333.1Z" fill="#FED98E"/>
<path d="M274.1,307.9 L278.8,303.9 L285.1,303.1 L286.7,307.9 L282,312.6 L276.4,314.2Z" fill="#FED98E"/>
<path d="M255,60 L258,98 L262.6,100.1 L265.1,103.9 L275.1,106.4 L285.1,106.4 L291.4,102.6 L293.9,95.1 L296.4,87.6 L300,83 L300,60Z" fill="#FEECB1"/>
<path d="M240.5,212.6 L250.5,208.8 L260.5,210.1 L269.3,215.1 L270.5,222.6 L260.5,227.6 L250.5,226.4 L241.7,222.6Z" fill="#FEECB1"/>
<path d="M396.6,380.2 L401.7,372.7 L410.4,370.2 L413,375.2 L407.9,383.9 L400.4,387.7Z" fill="#FEECB1"/>
<path d="M307.7,73.8 L311.1,70.8 L316.1,70.8 L318,74.8 L317.1,79.7 L313.1,78.7 L310.2,76.3Z" fill="#FEECB1"/>
<path d="M246.9,110.1 L247.5,113.9 L252.5,120.2 L262.6,127.7 L272.6,131.4 L285.1,130.2 L291.4,122.7 L300.2,116.4 L312.7,111.4 L322.7,105.1 L327.7,97.6 L335.2,91.3 L342.8,87.6 L350.3,91.3 L356,91 L380,100 L470,110 L545,230 L545,368 L480,368 L470,359 L463,352 L458,356 L450,360 L440,362 L434.2,361.4 L440.5,370.2 L443,380.2 L440.5,387.7 L434.2,396.5 L428,395.2 L421.7,389 L426.7,382.7 L428,375.2 L429.2,367.7 L430.5,360 L430.5,356.4 L423,353.9 L410.4,355.1 L400.4,360.2 L395.4,367.7 L385.4,372.7 L376.6,372.7 L367.8,372.7 L360.3,376.4 L352.8,378.9 L342.8,377.7 L334,373.9 L331.5,367.7 L334,361.4 L340.3,356.4 L350.3,356.4 L362.8,355.1 L370.3,352.6 L376.6,347.6 L380.4,340.1 L385.4,332.6 L390.4,325.1 L395.4,317.5 L385.4,312.5 L375.3,313.8 L365.3,317.5 L356.5,318.8 L357.8,312.7 L356.5,302.7 L352.8,295.2 L345.3,291.4 L335.2,290.2 L322.7,292.7 L312.7,295.2 L305.2,292.7 L303.1,287.8 L300.6,277.7 L298.1,267.7 L293.1,262.7 L285.6,252.7 L283.1,245.2 L278,240.2 L276.8,230.1 L278,217.6 L273,207.6 L273,200.2 L265.5,196.4 L255.4,196.4 L250.4,200.2 L245.4,202.7 L240.4,200.2 L235.4,192.7 L227.9,186.4 L220.4,188.9 L215.3,195.2 L210.3,200.2 L202.8,202.7 L192.8,205.2 L182.8,210.2 L172.7,211.5 L165.2,207.7 L157.7,202.7 L150.2,198.9 L147.7,187.6 L148.9,180.1 L155.2,172.6 L157.9,162.7 L162.9,152.7 L170.4,143.9 L177.9,143.9 L185.5,151.4 L193,155.2 L205.5,155.2 L218,153.9 L230.6,150.2 L238.1,145.2 L241.9,137.6 L245.6,125.1 L244.4,115.1Z" fill="#FEB95B"/>
<path d="M428,360.2 L433,346.4 L440.5,340.1 L450.5,335.1 L460.6,337.6 L470.6,340.1 L478.1,343.9 L480.6,347.6 L473.1,351.4 L465.6,355.2 L460,359 L445,361 L435,362Z" fill="#FED98E"/>
<path d="M304,290 L322,291 L320,300 L315,306.5 L304.5,305.5Z" fill="#FEB95B"/>
<path d="M438,482.8 L440.5,475.2 L448,467.7 L458,465.2 L475,465 L475,485 L450,495Z" fill="#FEB95B"/>
<path d="M505,330 L511,327 L517,328 L516,333 L508,337 L503,336Z" fill="#FED98E"/>
<path d="M247.9,162.6 L247.5,160.3 L255,152.7 L267.6,147.7 L280.1,142.7 L290.1,140.2 L300.2,135.2 L310.2,127.7 L320.2,122.7 L327.7,116.4 L335.2,111.4 L347.8,107.6 L357.8,106.4 L362.8,110.1 L370.3,108.9 L372.8,117 L376,112 L470,112 L545,230 L530,280 L520.7,285.2 L523.2,292.7 L515.7,297.7 L505.7,301.5 L498.1,303.5 L501.9,297.7 L506.9,293.9 L508.2,287.7 L495.6,282.7 L480.6,283.9 L465.6,287.7 L453,292.7 L445.5,291.4 L438,286.4 L436.7,277.6 L435.5,265.1 L425.5,261.4 L415.4,257.6 L402.9,260.1 L390.4,263.9 L375.3,265.1 L365.3,268.9 L352.8,273.9 L347.8,271.4 L340.3,262.6 L332.7,257.6 L322.7,252.6 L315.2,242.6 L311.4,232.5 L308.9,222 L305.6,219 L295.5,219 L285.5,217.7 L283,210.2 L278,202.7 L270.5,197.7 L260.5,195.2 L252.9,190.2 L249.2,182.6 L247.9,172.6Z" fill="#FE9929"/>
<path d="M400,112 L398,119 L402.9,122.7 L405.4,128.9 L400.4,133.9 L392.9,135.2 L389.1,142.7 L387.9,152.7 L385.4,162.8 L380.4,170.3 L376.6,177.8 L380.4,182.8 L387.9,177.8 L390.4,170.3 L395.4,165.3 L400.4,160.3 L406.7,165.3 L412.9,172.8 L415.4,180.3 L420.5,187.1 L426.7,182.6 L431.7,177.6 L435.5,167.6 L436.7,157.6 L439.2,150.1 L441.7,142.5 L444.3,135 L445.5,130 L450,125 L420,105Z" fill="#FEB95B"/>
<path d="M185.5,186.5 L189.2,176.5 L196.7,186.5Z" fill="#FE9929"/>
<path d="M417.9,302.7 L421.7,295.2 L428,302.7 L433,312.7 L436.7,322.8 L428,324 L420.5,325.3 L417.4,315.2Z" fill="#FE9929"/>
<path d="M301.4,157.7 L307.7,147.7 L313.9,138.9 L320.2,141.5 L327.7,142.7 L332.7,137.7 L342.8,136.4 L354,134.7 L357.3,138.9 L350.3,142.7 L345.3,147.7 L337.7,152.7 L331.5,157.7 L329,165.3 L320.2,168.3 L310.2,166.5 L303.9,162.8Z" fill="#E57215"/>
<path d="M352.8,234 L360.3,231.5 L372.8,229 L382.9,225.2 L390.4,217.7 L400.4,214 L415.4,214 L425.5,211.5 L429.2,210.2 L434,212 L440,226 L434.2,230.3 L431.7,240.3 L425.5,246.5 L415.4,250.3 L405.4,251.6 L395.4,254.1 L387.9,255.3 L380.4,250.3 L372.8,245.3 L362.8,242.8 L355.3,240.3 L351.5,236.5Z" fill="#E57215"/>
<path d="M461.8,250.1 L464.3,242.6 L473.1,238.8 L485.6,235 L493.1,235 L500,236 L518,255 L513.2,257.6 L508.2,263.9 L503.1,268.9 L495.6,273.9 L485.6,276.4 L475.6,277.6 L465.6,273.9 L462.6,265.1 L461.8,257.6Z" fill="#E57215"/>
<path d="M476.8,245.1 L480.6,241.3 L490.6,240.6 L498.1,243.8 L500.7,252.6 L490.6,255.1 L488.1,261.4 L481.8,266.4 L475.6,263.9 L478.1,258.8 L486.9,257.6 L488.1,253.8 L479.3,252.6 L476.8,248.8Z" fill="#CC4C02"/>
<path d="M414.5,231 L418,230 L423,232 L422.5,236.5 L418,238 L414.5,235Z" fill="#CC4C02"/>
<path d="M150.2,236.4 L159,233.9 L165.3,238.9 L166.5,247.7 L162.8,253.9 L156.5,257.7 L156.5,270.2 L155.2,279 L145.2,277.7 L135.2,272.7 L130.2,265.2 L132.7,257.7 L142.7,253.9 L149,247.7Z" fill="#FFFFD4"/>
<path d="M260.3,362.7 L265.3,355.2 L277.9,353.9 L285.4,348.9 L292.9,351.4 L296.7,357.7 L295.4,362.7 L287.9,365.2 L280.4,370.2 L272.9,371.5 L271.6,377.7 L275.4,382.7 L282.9,381.5 L290.4,385.2 L295.4,390.3 L300.4,392.8 L302,400 L270,414 L222,405 L226.5,390.3 L230.3,385.2 L237.8,384 L247.8,386.5 L255.3,382.7 L260.3,375.2 L260.3,367.7Z" fill="#FFFFD4"/>
<path d="M357.8,442.7 L365.3,436.4 L375.3,431.4 L385.4,433.9 L391.6,440.2 L390.4,446.4 L382.9,450.2 L377.8,455.2 L367.8,455.2 L360.3,450.2Z" fill="#FFFFD4"/>
<path d="M108,268 L114,267 L121.4,270 L121.4,280.3 L108,280Z" fill="#FFFFD4"/>
<use href="#lines"/>
</g>
<use href="#bel" fill="none" stroke="#161616" stroke-width="1.8" stroke-linejoin="round" shape-rendering="geometricPrecision"/>
<path d="M330.4,79.7 L333.4,78.1 L334.7,80.7 L333.4,84.6 L330.4,85.6 L329,82.7Z" fill="#161616" shape-rendering="geometricPrecision"/>
</g>

<g transform="translate(640,0)"><g fill="#0A50FF">
<path d="M7,5 L20,5 C23,8 27,13 28.5,19 C29.5,25 29.5,31 27.5,35 C25,39 22.5,43 21.5,47 L21,53.6 L7,53.6 Z"/>
<path d="M56,8 C51,9 46,13.5 43.5,19 C41.5,23 41.5,28 40.5,31 C38,35 33,40 29,45 C26.5,48 24.5,51 24,53.6 L56,53.6 Z"/>
<text x="5.2" y="70.4" style="fill:#0A50FF;stroke:#0A50FF;stroke-width:0.4px" font-family="Liberation Sans, sans-serif" font-size="20.2" textLength="52.2" lengthAdjust="spacingAndGlyphs">IRM</text>
</g></g>
<text x="719.5" y="30.6" class="title" textLength="362" lengthAdjust="spacing">Rapport à la normale du rayonnement solaire global</text>
<text x="717.8" y="51.6" class="sub" textLength="396.8" lengthAdjust="spacing">cumul automne 2020 par rapport à la normale saisonnière 1984-2013</text>
<g shape-rendering="crispEdges">
<rect x="1203" y="435" width="26" height="57" fill="#FFFFD4"/>
<rect x="1203" y="379" width="26" height="56" fill="#FEECB1"/>
<rect x="1203" y="322" width="26" height="57" fill="#FED98E"/>
<rect x="1203" y="266" width="26" height="56" fill="#FEB95B"/>
<rect x="1203" y="209" width="26" height="57" fill="#FE9929"/>
<rect x="1203" y="153" width="26" height="56" fill="#E57215"/>
<rect x="1203" y="96" width="26" height="57" fill="#CC4C02"/>
</g>
<text x="1241.4" y="496.6" class="lab" textLength="23.3" lengthAdjust="spacingAndGlyphs">100</text>
<text x="1241.4" y="439.6" class="lab" textLength="23.3" lengthAdjust="spacingAndGlyphs">102</text>
<text x="1241.4" y="383.6" class="lab" textLength="23.3" lengthAdjust="spacingAndGlyphs">104</text>
<text x="1241.4" y="326.6" class="lab" textLength="23.3" lengthAdjust="spacingAndGlyphs">106</text>
<text x="1241.4" y="270.6" class="lab" textLength="23.3" lengthAdjust="spacingAndGlyphs">108</text>
<text x="1241.4" y="213.6" class="lab" textLength="23.3" lengthAdjust="spacingAndGlyphs">110</text>
<text x="1241.4" y="157.6" class="lab" textLength="23.3" lengthAdjust="spacingAndGlyphs">112</text>
<text x="1241.4" y="100.6" class="lab" textLength="23.3" lengthAdjust="spacingAndGlyphs">114</text>
<text x="1259.6" y="74" class="unit" textLength="13.4" lengthAdjust="spacingAndGlyphs">%</text>

</g>
</svg>
</body>
</html>
